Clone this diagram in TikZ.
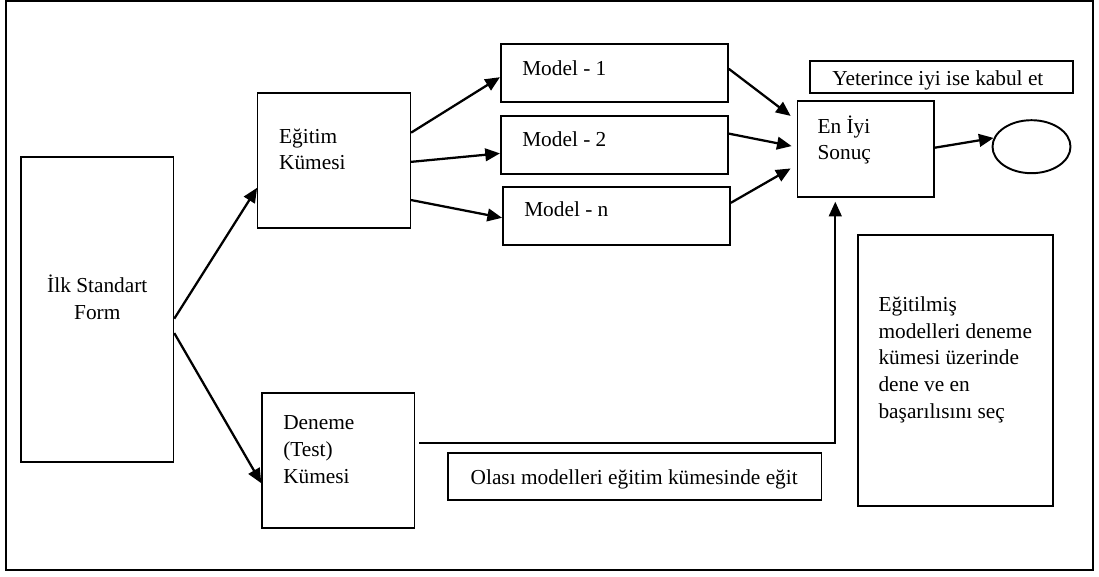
\documentclass[tikz,border=0pt]{standalone}
\usepackage{fontspec}
\setmainfont{Liberation Serif}
\usetikzlibrary{arrows.meta,calc,fit,shapes.geometric}

\begin{document}
\begin{tikzpicture}[x=0.75pt,y=-0.75pt,
  thinbox/.style={draw, line width=1pt, inner sep=0pt},
  boldbox/.style={draw, line width=1.45pt, inner sep=0pt},
  frame/.style={draw, line width=1.25pt, inner sep=0pt},
  txt/.style={inner sep=0pt, font=\fontsize{16}{20}\selectfont},
  arr/.style={line width=1.7pt, -{Triangle[length=11pt,width=9.5pt]}}]

\useasboundingbox (0,0) rectangle (1099,577);

% outer frame
\node[frame, fit={(6,1) (1093,570)}] (frame) {};

% boxes
\node[thinbox, fit={(21,157) (173.6,462)}] (form) {};
\node[thinbox, fit={(257.8,93) (410.4,228)}] (egitim) {};
\node[thinbox, fit={(262,393) (414.6,528)}] (deneme) {};
\node[boldbox, fit={(500.9,44) (727.8,102)}] (m1) {};
\node[boldbox, fit={(500.9,116) (727.8,174)}] (m2) {};
\node[boldbox, fit={(503,187) (729.9,245)}] (mn) {};
\node[boldbox, fit={(809.9,61) (1073,93)}] (kabul) {};
\node[thinbox, fit={(797.3,101) (934,197)}] (eniyi) {};
\node[boldbox, fit={(858.3,235) (1053,506)}] (secim) {};
\node[boldbox, fit={(448.3,453) (821.5,500)}] (egit) {};
\node[draw, ellipse, line width=1.45pt, minimum width=58.5pt, minimum height=39.75pt, inner sep=0pt] (sonuc) at (1031.5,146.7) {};

% labels (base anchor sits on the last line)
\node[txt, anchor=base, align=center] (formT) at (97.3,319) {İlk Standart\\Form};
\node[txt, anchor=base west, align=left] (egitimT) at (278.9,170) {Eğitim\\Kümesi};
\node[txt, anchor=base west, align=left] (denemeT) at (283,483) {Deneme\\(Test)\\Kümesi};
\node[txt, anchor=base west] (m1T) at (522,76) {Model - 1};
\node[txt, anchor=base west] (m2T) at (522,147) {Model - 2};
\node[txt, anchor=base west] (mnT) at (524,217) {Model - n};
\node[txt, anchor=base west] (kabulT) at (832,86) {Yeterince iyi ise kabul et};
\node[txt, anchor=base west, align=left] (eniyiT) at (817.3,160) {En İyi\\Sonuç};
\node[txt, anchor=base west, align=left] (secimT) at (878.3,418) {Eğitilmiş\\modelleri deneme\\kümesi üzerinde\\dene ve en\\başarılısını seç};
\node[txt, anchor=base west] (egitT) at (470.4,484) {Olası modelleri eğitim kümesinde eğit};

% connectors
\draw[arr] ($(form.north east)!0.53!(form.south east)$) -- ($(egitim.north west)!0.70!(egitim.south west)$);
\draw[arr] ($(form.north east)!0.577!(form.south east)$) -- ($(deneme.north west)!0.667!(deneme.south west)$);
\draw[arr] ($(egitim.north east)!0.296!(egitim.south east)$) -- ($(m1.north west)!0.57!(m1.south west)$);
\draw[arr] ($(egitim.north east)!0.51!(egitim.south east)$) -- ($(m2.north west)!0.64!(m2.south west)$);
\draw[arr] ($(egitim.north east)!0.79!(egitim.south east)$) -- ($(mn.north west)!0.53!(mn.south west)$);
\draw[arr] ($(m1.north east)!0.43!(m1.south east)$) -- ($(eniyi.north west)!0.16!(eniyi.south west) + (-6,0)$);
\draw[arr] ($(m2.north east)!0.31!(m2.south east)$) -- ($(eniyi.north west)!0.47!(eniyi.south west) + (-5,0)$);
\draw[arr] ($(mn.north east)!0.28!(mn.south east)$) -- ($(eniyi.north west)!0.70!(eniyi.south west) + (-6,0)$);
\draw[arr] ($(eniyi.north east)!0.487!(eniyi.south east)$) -- (sonuc.167);
\draw[arr] ($(deneme.north east)!0.37!(deneme.south east) + (4,0)$) -| ($(eniyi.south west)!0.28!(eniyi.south east) + (0,4)$);

\end{tikzpicture}
\end{document}
